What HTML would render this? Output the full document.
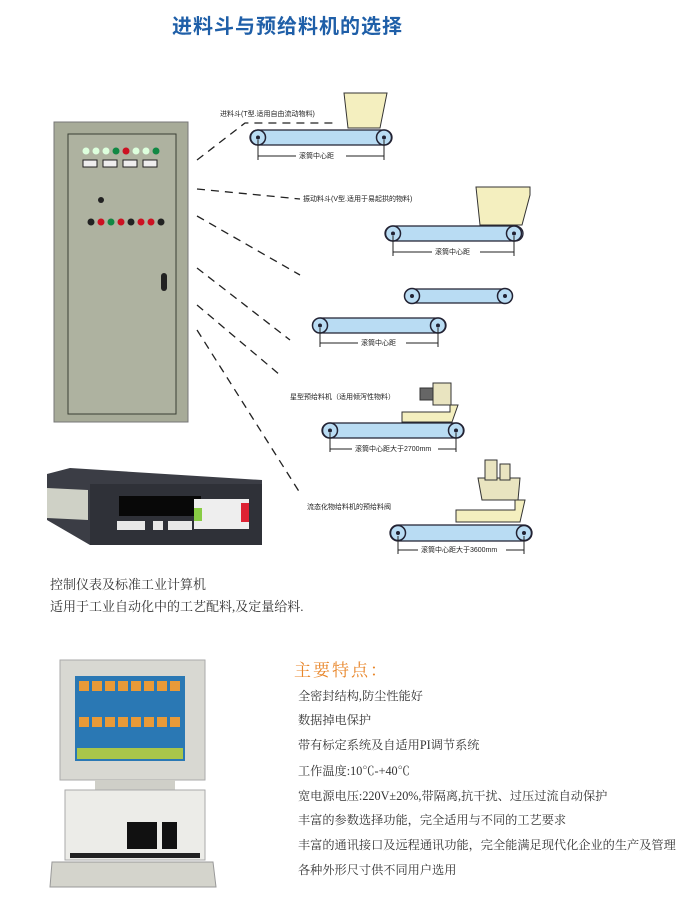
<!DOCTYPE html>
<html><head><meta charset="utf-8"><style>
body{margin:0;background:#fff;width:700px;height:904px;overflow:hidden;position:relative;font-family:"Liberation Sans","Noto Sans CJK SC",sans-serif}
.a{position:absolute;white-space:nowrap}
.f{font-family:"Liberation Serif","Noto Serif CJK SC",serif;font-size:12.2px;color:#333;left:298px}
</style></head><body>
<div class="a" style="left:172px;top:10px;font-size:20px;font-weight:bold;color:#1f5fa8;letter-spacing:1px">进料斗与预给料机的选择</div>

<svg class="a" style="left:0;top:0" width="700" height="904">
<defs>
<g id="roll"><circle r="7.5" fill="#b9dcf3" stroke="#223" stroke-width="1.5"/><circle r="2" fill="#223"/></g>
</defs>
<rect x="54" y="122" width="134" height="300" fill="#a7ab98" stroke="#777" stroke-width="1"/>
<rect x="68" y="134" width="108" height="280" fill="#aeb2a0" stroke="#3a3f35" stroke-width="1"/>
<g fill="#eee">
<circle cx="86" cy="151" r="3.5" fill="#dfd"/><circle cx="96" cy="151" r="3.5" fill="#dfd"/><circle cx="106" cy="151" r="3.5" fill="#dfd"/><circle cx="116" cy="151" r="3.5" fill="#184"/><circle cx="126" cy="151" r="3.5" fill="#c12"/><circle cx="136" cy="151" r="3.5" fill="#dfd"/><circle cx="146" cy="151" r="3.5" fill="#dfd"/><circle cx="156" cy="151" r="3.5" fill="#184"/>
<rect x="83" y="160" width="14" height="7" stroke="#222"/><rect x="103" y="160" width="14" height="7" stroke="#222"/><rect x="123" y="160" width="14" height="7" stroke="#222"/><rect x="143" y="160" width="14" height="7" stroke="#222"/>
<circle cx="91" cy="222" r="3.5" fill="#222"/><circle cx="101" cy="222" r="3.5" fill="#c12"/><circle cx="111" cy="222" r="3.5" fill="#184"/><circle cx="121" cy="222" r="3.5" fill="#c12"/><circle cx="131" cy="222" r="3.5" fill="#222"/><circle cx="141" cy="222" r="3.5" fill="#c12"/><circle cx="151" cy="222" r="3.5" fill="#c12"/><circle cx="161" cy="222" r="3.5" fill="#222"/>
<circle cx="101" cy="200" r="3" fill="#222"/>
</g>
<rect x="161" y="273" width="6" height="18" rx="3" fill="#222"/>
<g stroke="#222" stroke-width="1.3" stroke-dasharray="8,6" fill="none">
<path d="M197,160 L245,123 L337,123"/>
<path d="M197,189 L300,199"/>
<path d="M197,216 L300,275"/>
<path d="M197,268 L290,340"/>
<path d="M197,305 L280,375"/>
<path d="M197,330 L300,493"/>
</g>
<path d="M344,93 L387,93 L380,128 L348,128 Z" fill="#f4efbf" stroke="#333"/>
<rect x="250" y="130" width="142" height="15" rx="7.5" fill="#b9dcf3" stroke="#223" stroke-width="1.3"/>
<use href="#roll" x="258" y="137.5"/><use href="#roll" x="384" y="137.5"/>
<g stroke="#222" stroke-width="1"><line x1="258" y1="140" x2="258" y2="160"/><line x1="384" y1="140" x2="384" y2="160"/><line x1="258" y1="156" x2="296" y2="156"/><line x1="346" y1="156" x2="384" y2="156"/></g>
<path d="M476,187 L530,187 L530,195 L522,225 L480,225 Z" fill="#f4efbf" stroke="#333"/>
<rect x="385" y="226" width="138" height="15" rx="7.5" fill="#b9dcf3" stroke="#223" stroke-width="1.3"/>
<use href="#roll" x="393" y="233.5"/><use href="#roll" x="514" y="233.5"/>
<g stroke="#222"><line x1="393" y1="236" x2="393" y2="256"/><line x1="514" y1="236" x2="514" y2="256"/><line x1="393" y1="252" x2="432" y2="252"/><line x1="480" y1="252" x2="514" y2="252"/></g>
<rect x="405" y="289" width="107" height="14" rx="7" fill="#b9dcf3" stroke="#223" stroke-width="1.3"/>
<use href="#roll" x="412" y="296"/><use href="#roll" x="505" y="296"/>
<rect x="313" y="318" width="133" height="15" rx="7.5" fill="#b9dcf3" stroke="#223" stroke-width="1.3"/>
<use href="#roll" x="320" y="325.5"/><use href="#roll" x="438" y="325.5"/>
<g stroke="#222"><line x1="320" y1="328" x2="320" y2="347"/><line x1="438" y1="328" x2="438" y2="347"/><line x1="320" y1="343" x2="358" y2="343"/><line x1="406" y1="343" x2="438" y2="343"/></g>
<path d="M402,412 L450,412 L450,405 L458,405 L452,422 L402,422 Z" fill="#f4efbf" stroke="#333"/>
<rect x="433" y="383" width="18" height="22" fill="#e9e4c0" stroke="#333"/>
<rect x="420" y="388" width="13" height="12" fill="#666" stroke="#333"/>
<rect x="322" y="423" width="142" height="15" rx="7.5" fill="#b9dcf3" stroke="#223" stroke-width="1.3"/>
<use href="#roll" x="330" y="430.5"/><use href="#roll" x="456" y="430.5"/>
<g stroke="#222"><line x1="330" y1="433" x2="330" y2="452"/><line x1="456" y1="433" x2="456" y2="452"/><line x1="330" y1="449" x2="352" y2="449"/><line x1="438" y1="449" x2="456" y2="449"/></g>
<path d="M456,510 L515,510 L515,500 L525,500 L520,522 L456,522 Z" fill="#f4efbf" stroke="#333"/>
<path d="M478,478 L520,478 L518,500 L482,500 Z" fill="#e9e4c0" stroke="#333"/>
<rect x="485" y="460" width="12" height="20" fill="#e9e4c0" stroke="#333"/>
<rect x="500" y="464" width="10" height="16" fill="#e9e4c0" stroke="#333"/>
<rect x="390" y="525" width="142" height="16" rx="8" fill="#b9dcf3" stroke="#223" stroke-width="1.3"/>
<use href="#roll" x="398" y="533"/><use href="#roll" x="524" y="533"/>
<g stroke="#222"><line x1="398" y1="536" x2="398" y2="554"/><line x1="524" y1="536" x2="524" y2="554"/><line x1="398" y1="550" x2="418" y2="550"/><line x1="506" y1="550" x2="524" y2="550"/></g>
<path d="M47,474 L70,468 L262,480 L262,545 L90,545 L47,520 Z" fill="#3b3d45"/>
<rect x="90" y="484" width="172" height="61" fill="#2f3138"/>
<path d="M47,488 L88,490 L88,520 L47,518 Z" fill="#cfd1c6"/>
<rect x="119" y="496" width="82" height="20" fill="#080808"/>
<rect x="194" y="499" width="55" height="30" fill="#eee"/>
<rect x="194" y="508" width="8" height="13" fill="#8c4"/><rect x="241" y="503" width="8" height="19" fill="#d23"/>
<rect x="117" y="521" width="28" height="9" fill="#e8e8e8"/><rect x="153" y="521" width="10" height="9" fill="#e8e8e8"/><rect x="168" y="521" width="24" height="9" fill="#e8e8e8"/>
<rect x="60" y="660" width="145" height="120" fill="#d8d8d2" stroke="#aaa"/>
<rect x="75" y="676" width="110" height="85" fill="#2a78b4"/>
<g fill="#e89a38"><rect x="79" y="681" width="10" height="10"/><rect x="92" y="681" width="10" height="10"/><rect x="105" y="681" width="10" height="10"/><rect x="118" y="681" width="10" height="10"/><rect x="131" y="681" width="10" height="10"/><rect x="144" y="681" width="10" height="10"/><rect x="157" y="681" width="10" height="10"/><rect x="170" y="681" width="10" height="10"/>
<rect x="79" y="717" width="10" height="10"/><rect x="92" y="717" width="10" height="10"/><rect x="105" y="717" width="10" height="10"/><rect x="118" y="717" width="10" height="10"/><rect x="131" y="717" width="10" height="10"/><rect x="144" y="717" width="10" height="10"/><rect x="157" y="717" width="10" height="10"/><rect x="170" y="717" width="10" height="10"/></g>
<rect x="77" y="748" width="106" height="11" fill="#a9c64a"/>
<rect x="95" y="780" width="80" height="10" fill="#cfcfc8"/>
<rect x="65" y="790" width="140" height="70" fill="#ecece8" stroke="#aaa"/>
<rect x="127" y="822" width="30" height="27" fill="#111"/><rect x="162" y="822" width="15" height="27" fill="#111"/>
<rect x="70" y="853" width="130" height="5" fill="#222"/>
<path d="M52,862 L213,862 L216,887 L50,887 Z" fill="#d4d4cc" stroke="#999"/>
</svg>

<div class="a" style="left:220px;top:109px;font-size:7px;color:#222">进料斗(T型.适用自由流动物料)</div>
<div class="a" style="left:299px;top:151px;font-size:7px;color:#222">滚筒中心距</div>
<div class="a" style="left:303px;top:194px;font-size:7px;color:#222">振动料斗(V型.适用于易起拱的物料)</div>
<div class="a" style="left:435px;top:247px;font-size:7px;color:#222">滚筒中心距</div>
<div class="a" style="left:361px;top:338px;font-size:7px;color:#222">滚筒中心距</div>
<div class="a" style="left:290px;top:392px;font-size:7px;color:#222">星型预给料机（适用倾泻性物料）</div>
<div class="a" style="left:355px;top:444px;font-size:7px;color:#222">滚筒中心距大于2700mm</div>
<div class="a" style="left:307px;top:502px;font-size:7px;color:#222">流态化物给料机的预给料阀</div>
<div class="a" style="left:421px;top:545px;font-size:7px;color:#222">滚筒中心距大于3600mm</div>

<div class="a" style="left:50px;top:574px;font-family:'Liberation Serif','Noto Serif CJK SC',serif;font-size:13px;color:#333">控制仪表及标准工业计算机</div>
<div class="a" style="left:50px;top:596px;font-family:'Liberation Serif','Noto Serif CJK SC',serif;font-size:13px;color:#333">适用于工业自动化中的工艺配料,及定量给料.</div>

<div class="a" style="left:294px;top:656px;font-family:'Liberation Serif','Noto Serif CJK SC',serif;font-size:17px;color:#e8862a;letter-spacing:2px">主要特点：</div>
<div class="a f" style="top:687px">全密封结构,防尘性能好</div>
<div class="a f" style="top:711px">数据掉电保护</div>
<div class="a f" style="top:736px">带有标定系统及自适用PI调节系统</div>
<div class="a f" style="top:762px">工作温度:10℃-+40℃</div>
<div class="a f" style="top:787px">宽电源电压:220V±20%,带隔离,抗干扰、过压过流自动保护</div>
<div class="a f" style="top:811px">丰富的参数选择功能，完全适用与不同的工艺要求</div>
<div class="a f" style="top:836px">丰富的通讯接口及远程通讯功能，完全能满足现代化企业的生产及管理</div>
<div class="a f" style="top:861px">各种外形尺寸供不同用户选用</div>
</body></html>
